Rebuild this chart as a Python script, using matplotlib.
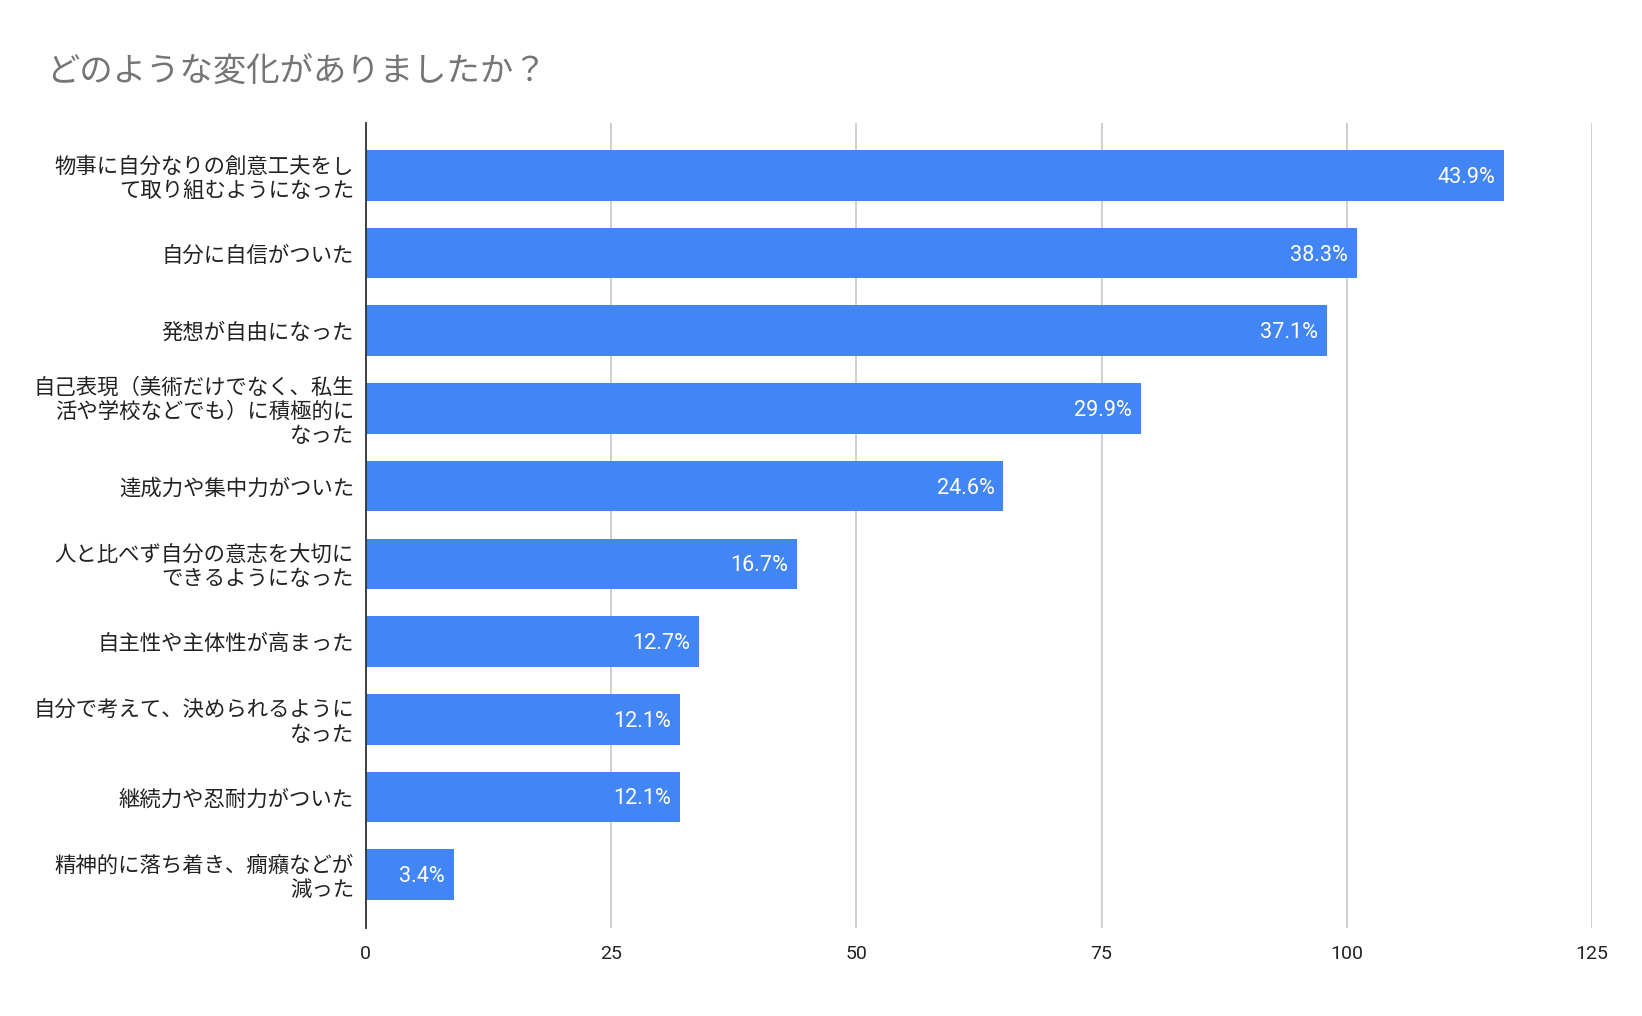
import matplotlib.pyplot as plt

# データ
categories = [
    "物事に自分なりの創意工夫をし\nて取り組むようになった",
    "自分に自信がついた",
    "発想が自由になった",
    "自己表現（美術だけでなく、私生\n活や学校などでも）に積極的に\nなった",
    "達成力や集中力がついた",
    "人と比べず自分の意志を大切に\nできるようになった",
    "自主性や主体性が高まった",
    "自分で考えて、決められるように\nなった",
    "継続力や忍耐力がついた",
    "精神的に落ち着き、癇癪などが\n減った",
]
counts = [116, 101, 98, 79, 65, 44, 34, 32, 32, 9]
pct_labels = ["43.9%", "38.3%", "37.1%", "29.9%", "24.6%",
              "16.7%", "12.7%", "12.1%", "12.1%", "3.4%"]
xticks = [0, 25, 50, 75, 100, 125]

title = "どのような変化がありましたか？"

plt.rcParams['font.family'] = ['Noto Sans CJK JP', 'DejaVu Sans']

fig = plt.figure(figsize=(16.42, 10.16), dpi=100)
ax = fig.add_axes([0.2227, 0.0866, 0.9697 - 0.2227, 0.8786 - 0.0866])

y = list(range(len(categories)))
bars = ax.barh(y, counts, height=0.652, color='#4285F4', zorder=3)

# 値ラベル（バーの内側、右寄せ）
for bar, lab in zip(bars, pct_labels):
    ax.annotate(lab, xy=(bar.get_width(), bar.get_y() + bar.get_height() / 2),
                xytext=(-9, -2), textcoords='offset pixels',
                ha='right', va='center', color='white',
                fontsize=15.6, family=['Roboto', 'DejaVu Sans'], zorder=4)

ax.set_xlim(0, 125)
ax.set_ylim(9.686, -0.669)
ax.set_xticks(xticks)
ax.set_xticklabels([str(t) for t in xticks], family=['Roboto', 'DejaVu Sans'],
                   fontsize=14, color='#222222')
ax.set_yticks(y)
ax.set_yticklabels(categories, fontsize=15.4, color='#222222', linespacing=1.12)
ax.tick_params(axis='both', length=0)
ax.tick_params(axis='x', pad=12)
ax.tick_params(axis='y', pad=8.4)

# グリッド
ax.grid(axis='x', color='#cccccc', linewidth=1.3, zorder=0)
ax.grid(axis='y', visible=False)
for s in ['top', 'right', 'bottom']:
    ax.spines[s].set_visible(False)
ax.spines['left'].set_color('#333333')
ax.spines['left'].set_linewidth(1.3)
ax.spines['left'].set_zorder(5)

fig.text(46 / 1642, 1 - 71 / 1016, title, fontsize=24, color='#757575',
         ha='left', va='center')

fig.savefig('out.png', dpi=100, facecolor='white')
